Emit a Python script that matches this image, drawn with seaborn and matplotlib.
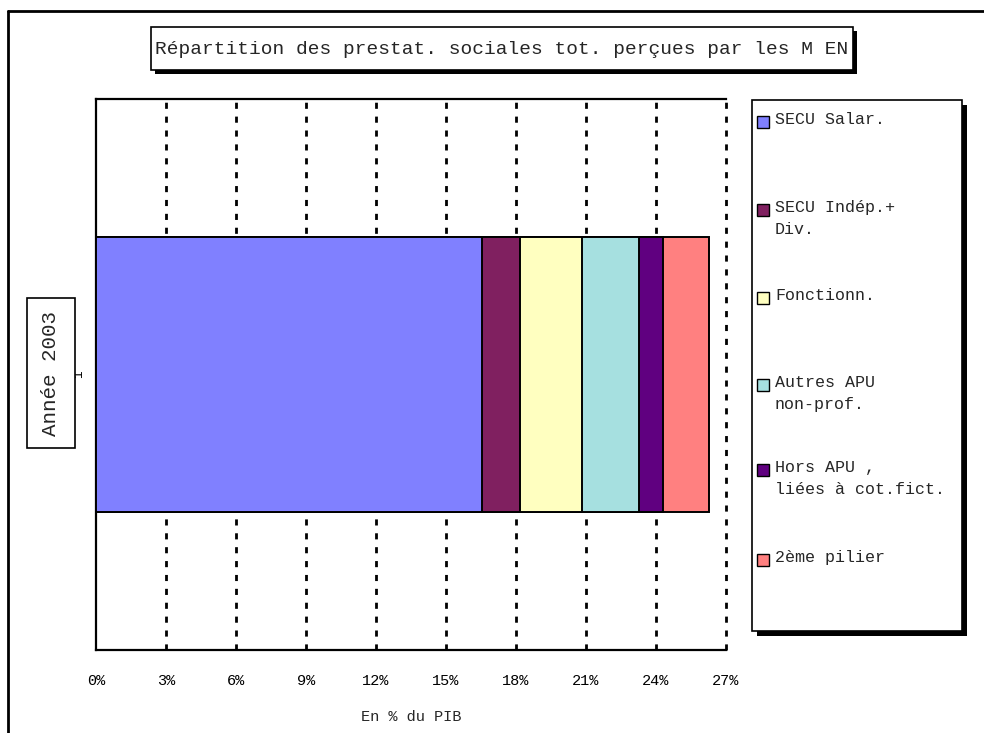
import matplotlib
matplotlib.use("Agg")
import matplotlib.pyplot as plt
from matplotlib.patches import Rectangle
from matplotlib.lines import Line2D
from matplotlib.ticker import FuncFormatter
import numpy as np
import pandas as pd
import seaborn as sns

# Benefit categories (stack order, left to right) and their share of GDP in %
categories = [
    "SECU Salar.",
    "SECU Indép.+\nDiv.",
    "Fonctionn.",
    "Autres APU\nnon-prof.",
    "Hors APU ,\nliées à cot.fict.",
    "2ème pilier",
]
values = [16.56, 1.62, 2.63, 2.44, 1.06, 1.95]
colors = ["#8080FF", "#802060", "#FFFFC0", "#A6E0E0", "#600080", "#FF8080"]

row_label = "1"
year_label = "Année 2003"
x_ticks = [0, 3, 6, 9, 12, 15, 18, 21, 24, 27]
title = "Répartition des prestat. sociales tot. perçues par les M EN"
x_label = "En % du PIB"

sns.set_style("white")
plt.rcParams["font.family"] = ["Liberation Mono", "DejaVu Sans Mono"]

W, H = 984, 733
fig = plt.figure(figsize=(W / 100, H / 100), dpi=100)


def fx(px):
    return px / W


def fy(py):
    return 1 - py / H


ax = fig.add_axes([fx(96), fy(650), fx(726) - fx(96), fy(99) - fy(650)])

# Stacked bar: overlay cumulative totals, longest first
cum = np.cumsum(values)
for i in reversed(range(len(values))):
    df = pd.DataFrame({"share": [cum[i]], "row": [row_label]})
    sns.barplot(data=df, x="share", y="row", orient="h", color=colors[i],
                saturation=1, width=0.5, edgecolor="black", linewidth=1.4,
                ax=ax, zorder=3)

ax.set_xlim(0, 27)
ax.set_ylim(0.5, -0.5)
ax.set_xticks(x_ticks)
ax.xaxis.set_major_formatter(FuncFormatter(lambda v, p: f"{v:.0f}%"))
ax.tick_params(axis="x", direction="out", length=5, width=1, pad=12,
               labelsize=11, colors="black")
ax.set_yticks([0])
ax.set_yticklabels([row_label], rotation=90, fontsize=9, va="center")
ax.set_yticks([-0.5, 0.5], minor=True)
ax.tick_params(axis="y", which="minor", direction="out", length=5, width=1,
               colors="black")
ax.tick_params(axis="y", which="major", length=0, pad=8, colors="black")

ax.grid(False)
for x in x_ticks[1:]:
    ax.axvline(x, color="black", linestyle=(0, (2.2, 2.8)), linewidth=2,
               zorder=1, clip_on=False)

for side in ["top", "left", "bottom"]:
    ax.spines[side].set_visible(True)
    ax.spines[side].set_color("black")
    ax.spines[side].set_linewidth(1.6)
ax.spines["right"].set_visible(False)

ax.set_xlabel(x_label, fontsize=11, labelpad=16)
ax.set_ylabel("")

# Outer chart frame (left and top edges)
fig.add_artist(Line2D([fx(8), fx(8)], [fy(11), 0], color="black", lw=2))
fig.add_artist(Line2D([fx(8), 1], [fy(11), fy(11)], color="black", lw=2))


def boxed(x0, y0, x1, y1, shadow=4):
    if shadow:
        fig.add_artist(Rectangle((fx(x0 + shadow), fy(y1 + shadow)),
                                 fx(x1) - fx(x0), fy(y0) - fy(y1),
                                 facecolor="black", edgecolor="none",
                                 transform=fig.transFigure, zorder=5))
    fig.add_artist(Rectangle((fx(x0), fy(y1)), fx(x1) - fx(x0),
                             fy(y0) - fy(y1), facecolor="white",
                             edgecolor="black", linewidth=1.2,
                             transform=fig.transFigure, zorder=6))


# Title box
boxed(151, 27, 853, 70)
fig.text(fx(502), fy(49), title, ha="center", va="center", fontsize=14,
         zorder=7)

# Year label box
boxed(27, 298, 75, 448, shadow=0)
fig.text(fx(51), fy(373), year_label, ha="center", va="center",
         rotation=90, fontsize=15, zorder=7)

# Legend: frame with drop shadow, swatch beside the first line of each label
boxed(752, 100, 962, 631, shadow=5)
entry_y = [122, 210, 298, 385, 470, 560]
for lab, col, yy in zip(categories, colors, entry_y):
    fig.add_artist(Rectangle((fx(757), fy(yy + 6)), fx(12), 12 / H,
                             facecolor=col, edgecolor="black", linewidth=1,
                             transform=fig.transFigure, zorder=7))
    fig.text(fx(775), fy(yy - 10), lab, ha="left", va="top", fontsize=12,
             linespacing=1.55, zorder=7)

fig.savefig("out.png", dpi=100)
